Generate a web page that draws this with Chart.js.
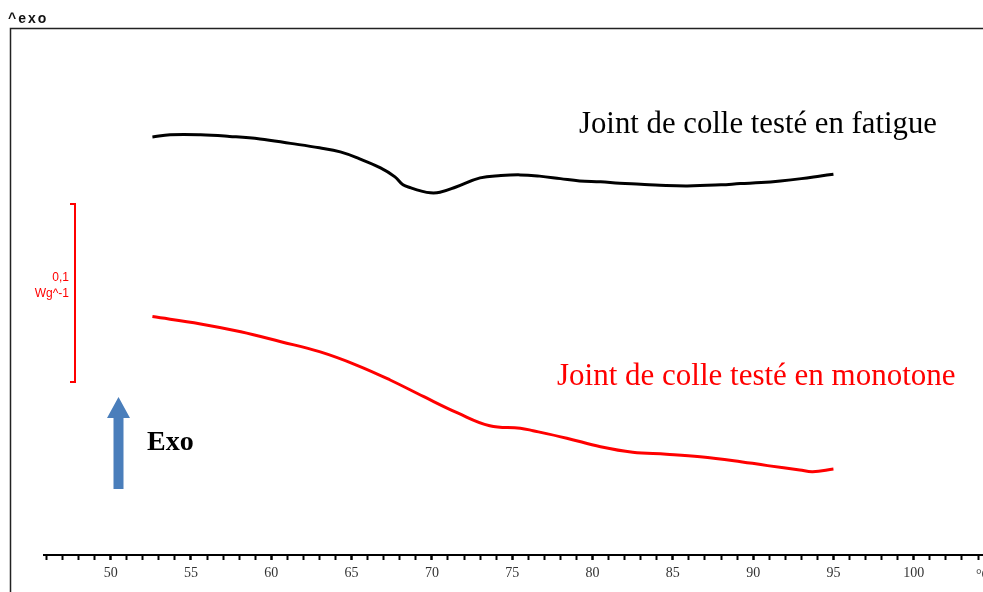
<!DOCTYPE html>
<html>
<head>
<meta charset="utf-8">
<title>DSC - joint de colle</title>
<script src="https://cdn.jsdelivr.net/npm/chart.js@4/dist/chart.umd.min.js"></script>
<style>
  html, body { margin: 0; padding: 0; background: #fff; }
  #wrap { width: 983px; height: 592px; position: relative; }
</style>
</head>
<body>
<div id="wrap"><canvas id="dsc"></canvas></div>
<script>
// temperature (°C) / heat flow (mW/g, arbitrary offset)
const tempFatigue = [52.6, 53.7, 55.6, 57.4, 59.3, 61.2, 63.0, 64.3, 65.5, 66.8, 67.7, 68.2, 68.7, 69.3, 69.9, 70.5, 71.5, 73.0, 74.3, 75.5, 76.7, 78.0, 79.2, 80.5, 81.7, 83.0, 84.2, 85.9, 88.0, 89.2, 90.5, 91.7, 93.0, 94.2, 95.0];
const heatFlowFatigue = [234.8, 236.0, 236.0, 235.1, 233.7, 231.2, 228.7, 226.4, 222.5, 217.4, 212.4, 207.9, 206.2, 204.5, 203.4, 203.7, 206.7, 211.8, 213.1, 213.5, 212.8, 211.4, 210.1, 209.6, 208.8, 208.3, 207.7, 207.3, 207.9, 208.6, 209.2, 210.1, 211.4, 212.9, 213.9];

const tempMonotone = [52.6, 55.6, 58.1, 60.6, 63.0, 65.3, 67.4, 69.5, 71.6, 73.6, 75.5, 76.3, 78.4, 80.5, 82.5, 84.6, 86.7, 88.8, 90.9, 92.9, 93.7, 95.0];
const heatFlowMonotone = [133.9, 129.8, 125.4, 119.8, 114.2, 106.7, 98.3, 88.9, 79.8, 72.6, 71.2, 69.8, 65.6, 60.8, 57.7, 56.6, 55.2, 53.0, 50.2, 47.8, 46.8, 48.3];

const seriesNames = ['Joint de colle testé en fatigue', 'Joint de colle testé en monotone'];

// 0,1 W/g scale bar
const scaleBarFrom = 97.2;
const scaleBarSpan = 100;
const scaleBarLabel = ['0,1', 'Wg^-1'];

const toPoints = (xs, ys) => xs.map((x, i) => ({ x: x, y: ys[i] }));

const annotations = {
    id: 'annotations',
    beforeDraw(chart) {
        const ctx = chart.ctx;
        ctx.save();
        // frame
        ctx.strokeStyle = '#222';
        ctx.lineWidth = 1.5;
        ctx.beginPath();
        ctx.moveTo(10.5, 592);
        ctx.lineTo(10.5, 28.5);
        ctx.lineTo(983, 28.5);
        ctx.stroke();

        ctx.fillStyle = '#111';
        ctx.font = 'bold 14px "Liberation Sans", Arial, sans-serif';
        ctx.letterSpacing = '2px';
        ctx.textBaseline = 'alphabetic';
        ctx.fillText('^exo', 8, 23);
        ctx.restore();
    },
    afterDraw(chart) {
        const ctx = chart.ctx;
        const y = chart.scales.y;
        ctx.save();

        // scale bar
        const top = y.getPixelForValue(scaleBarFrom + scaleBarSpan);
        const bot = y.getPixelForValue(scaleBarFrom);
        ctx.strokeStyle = '#ff0000';
        ctx.lineWidth = 2;
        ctx.beginPath();
        ctx.moveTo(70, top);
        ctx.lineTo(75, top);
        ctx.lineTo(75, bot);
        ctx.lineTo(70, bot);
        ctx.stroke();
        ctx.fillStyle = '#ff0000';
        ctx.font = '12px "Liberation Sans", Arial, sans-serif';
        ctx.textAlign = 'right';
        ctx.textBaseline = 'middle';
        ctx.fillText(scaleBarLabel[0], 69, 278);
        ctx.fillText(scaleBarLabel[1], 69, 294);

        // exo arrow
        ctx.fillStyle = '#4a7ebb';
        ctx.beginPath();
        ctx.moveTo(113.5, 489);
        ctx.lineTo(113.5, 418);
        ctx.lineTo(107, 418);
        ctx.lineTo(118.5, 397);
        ctx.lineTo(130, 418);
        ctx.lineTo(123.5, 418);
        ctx.lineTo(123.5, 489);
        ctx.closePath();
        ctx.fill();

        ctx.fillStyle = '#000';
        ctx.font = 'bold 28px "Liberation Serif", "Times New Roman", serif';
        ctx.textAlign = 'left';
        ctx.fillText('Exo', 147, 443);

        // series labels
        ctx.font = '31px "Liberation Serif", "Times New Roman", serif';
        ctx.textBaseline = 'alphabetic';
        ctx.fillStyle = '#000';
        ctx.fillText(seriesNames[0], 579, 133, 358);
        ctx.fillStyle = '#ff0000';
        ctx.fillText(seriesNames[1], 557, 385, 400);

        // unit at axis end
        ctx.fillStyle = '#333';
        ctx.font = '14px "Liberation Serif", "Times New Roman", serif';
        ctx.textBaseline = 'middle';
        ctx.fillText('°C', 976, 575);
        ctx.restore();
    }
};

new Chart(document.getElementById('dsc'), {
    type: 'line',
    data: {
        datasets: [{
            label: seriesNames[0],
            data: toPoints(tempFatigue, heatFlowFatigue),
            borderColor: '#000',
            borderWidth: 3,
            pointRadius: 0,
            tension: 0.4
        }, {
            label: seriesNames[1],
            data: toPoints(tempMonotone, heatFlowMonotone),
            borderColor: '#ff0000',
            borderWidth: 3,
            pointRadius: 0,
            tension: 0.4
        }]
    },
    options: {
        responsive: true,
        maintainAspectRatio: false,
        animation: false,
        layout: { padding: { top: 28, left: 44, right: 0, bottom: 0 } },
        plugins: {
            legend: { display: false },
            tooltip: { enabled: false }
        },
        scales: {
            x: {
                type: 'linear',
                min: 45.85,
                max: 104.3,
                afterFit: (scale) => { scale.height = 37; },
                border: { display: true, color: '#000', width: 2 },
                grid: {
                    drawOnChartArea: false,
                    drawTicks: true,
                    tickLength: 5,
                    tickColor: '#000',
                    tickWidth: (c) => (c.tick && c.tick.value % 5 === 0 ? 2.5 : 2)
                },
                ticks: {
                    stepSize: 1,
                    autoSkip: false,
                    maxRotation: 0,
                    includeBounds: false,
                    padding: 5,
                    color: '#333',
                    font: { family: '"Liberation Serif", "Times New Roman", serif', size: 14 },
                    callback: (v) => (v % 5 === 0 ? String(v) : '')
                }
            },
            y: {
                display: false,
                min: 0,
                max: 296
            }
        }
    },
    plugins: [annotations]
});
</script>
</body>
</html>
